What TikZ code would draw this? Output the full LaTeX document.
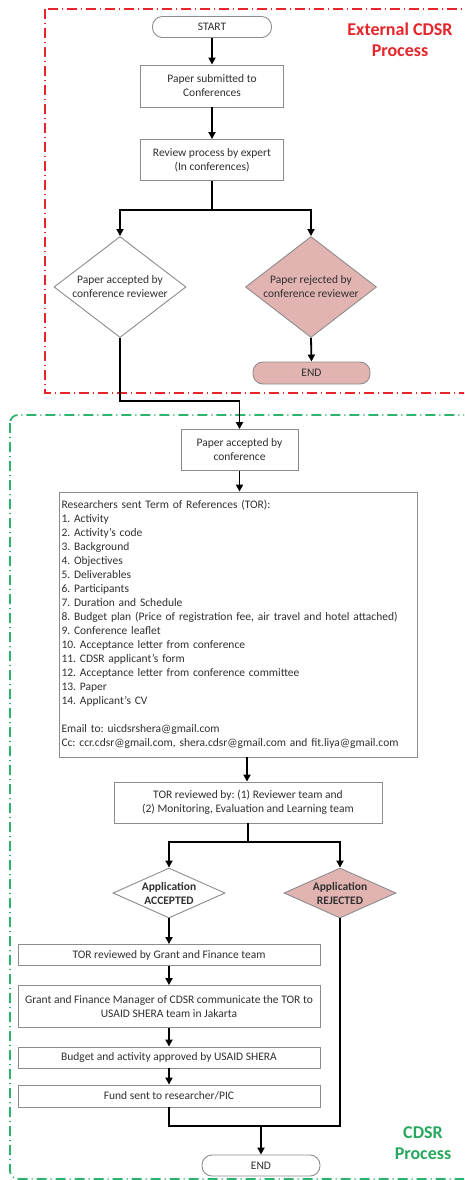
\documentclass[tikz,border=0pt]{standalone}
\usepackage{fontspec}
\setmainfont{Carlito}
\usetikzlibrary{shapes.geometric,arrows.meta}
\definecolor{pinkf}{HTML}{E2B4B1}
\definecolor{redb}{HTML}{E5252A}
\definecolor{greenb}{HTML}{2DB36B}
\definecolor{greent}{HTML}{27A85E}
\definecolor{txt}{HTML}{303030}
\definecolor{bord}{HTML}{8C8C8C}
\frenchspacing
\begin{document}
\begin{tikzpicture}[x=1pt,y=-1pt,
  txtf/.style={font=\fontsize{11.5}{14}\selectfont,text=txt},
  box/.style={draw=bord,line width=0.9pt,fill=white,txtf,align=center,inner sep=2pt},
  term/.style={box,rounded corners=10pt},
  dia/.style={draw=bord,line width=0.9pt,shape=diamond,inner sep=0pt,fill=white},
  lab/.style={txtf,align=center},
  conn/.style={line width=1.8pt,black},
  arr/.style={conn,-{Triangle[length=7pt,width=7pt]}},
  frame/.style={line width=1.8pt,dash pattern=on 10pt off 4pt on 1pt off 4pt},
  title/.style={font=\fontsize{18}{21}\selectfont\bfseries,align=center}]
\useasboundingbox (0,0) rectangle (464,1180);
\clip (0,0) rectangle (464,1180);
% frames
\draw[frame,redb] (45,9) rectangle (475,393);
\draw[frame,greenb,rounded corners=8pt] (10,415) rectangle (475,1179);
\node[title,text=redb] (t1) at (400,40) {External CDSR\\Process};
\node[title,text=greent] (t2) at (423,1143) {CDSR\\Process};
% external
\node[term,minimum width=119pt,minimum height=21pt] (start) at (212,27) {START};
\node[box,minimum width=143pt,minimum height=42pt] (b1) at (212,86) {Paper submitted to\\Conferences};
\node[box,minimum width=143pt,minimum height=41pt] (b2) at (212,160) {Review process by expert\\(In conferences)};
\node[dia,minimum width=132pt,minimum height=101pt,label={[lab]center:Paper accepted by\\conference reviewer}] (d1) at (120,287) {};
\node[dia,fill=pinkf,minimum width=131pt,minimum height=101pt,label={[lab]center:Paper rejected by\\conference reviewer}] (d2) at (311,287) {};
\node[term,fill=pinkf,minimum width=117pt,minimum height=22pt] (e1) at (311.5,373) {END};
% internal
\node[box,align=left,text width=353pt,inner sep=2.5pt,minimum height=265pt] (tor) at (238,624.5) {Researchers sent Term of References (TOR):\\
1. Activity\\
2. Activity’s code\\
3. Background\\
4. Objectives\\
5. Deliverables\\
6. Participants\\
7. Duration and Schedule\\
8. Budget plan (Price of registration fee, air travel and hotel attached)\\
9. Conference leaflet\\
10. Acceptance letter from conference\\
11. CDSR applicant’s form\\
12. Acceptance letter from conference committee\\
13. Paper\\
14. Applicant’s CV\\[14pt]
Email to: uicdsrshera@gmail.com\\
Cc: ccr.cdsr@gmail.com, shera.cdsr@gmail.com and fit.liya@gmail.com};
\node[box,minimum width=117pt,minimum height=41pt] (b3) at (239.5,450) {Paper accepted by\\conference};
\node[box,minimum width=268pt,minimum height=41pt] (b5) at (248,802.5) {TOR reviewed by: (1) Reviewer team and\\(2) Monitoring, Evaluation and Learning team};
\node[dia,minimum width=112pt,minimum height=50pt,label={[lab,font=\fontsize{11.5}{14}\selectfont\bfseries]center:Application\\ACCEPTED}] (d3) at (169,893) {};
\node[dia,fill=pinkf,minimum width=112pt,minimum height=50pt,label={[lab,font=\fontsize{11.5}{14}\selectfont\bfseries]center:Application\\REJECTED}] (d4) at (340,893) {};
\node[box,minimum width=302pt,minimum height=21pt] (b6) at (169,955) {TOR reviewed by Grant and Finance team};
\node[box,minimum width=302pt,minimum height=42pt] (b7) at (169,1006.5) {Grant and Finance Manager of CDSR communicate the TOR to\\USAID SHERA team in Jakarta};
\node[box,minimum width=302pt,minimum height=21pt] (b8) at (169,1057.5) {Budget and activity approved by USAID SHERA};
\node[box,minimum width=302pt,minimum height=22pt] (b9) at (169,1096) {Fund sent to researcher/PIC};
\node[term,minimum width=118pt,minimum height=21pt] (e2) at (261,1165.5) {END};
% junction coordinates
\coordinate (j1) at (212,210);
\coordinate (j2) at (239.5,401);
\coordinate (j3) at (248,842);
\coordinate (j4) at (261,1126);
% connectors
\draw[arr] (start) -- (b1);
\draw[arr] (b1) -- (b2);
\draw[conn] (b2.south) -- (j1);
\draw[arr] (j1) -| (d1.north);
\draw[arr] (j1) -| (d2.north);
\draw[arr] (d2.south) -- (e1.north);
\draw[arr] (d1.south) |- (j2) -- (b3.north);
\draw[arr] (b3) -- (tor.north -| b3);
\draw[arr] (tor.south -| 247,0) -- (b5.north -| 247,0);
\draw[conn] (b5.south -| j3) -- (j3);
\draw[arr] (j3) -| (d3.north);
\draw[arr] (j3) -| (d4.north);
\draw[arr] (d3.south) -- (b6.north -| d3);
\draw[arr] (b6) -- (b7);
\draw[arr] (b7) -- (b8);
\draw[arr] (b8) -- (b9);
\draw[conn] (b9.south) |- (j4);
\draw[conn] (d4.south) |- (j4);
\draw[arr] (j4) -- (e2.north);
\end{tikzpicture}
\end{document}
